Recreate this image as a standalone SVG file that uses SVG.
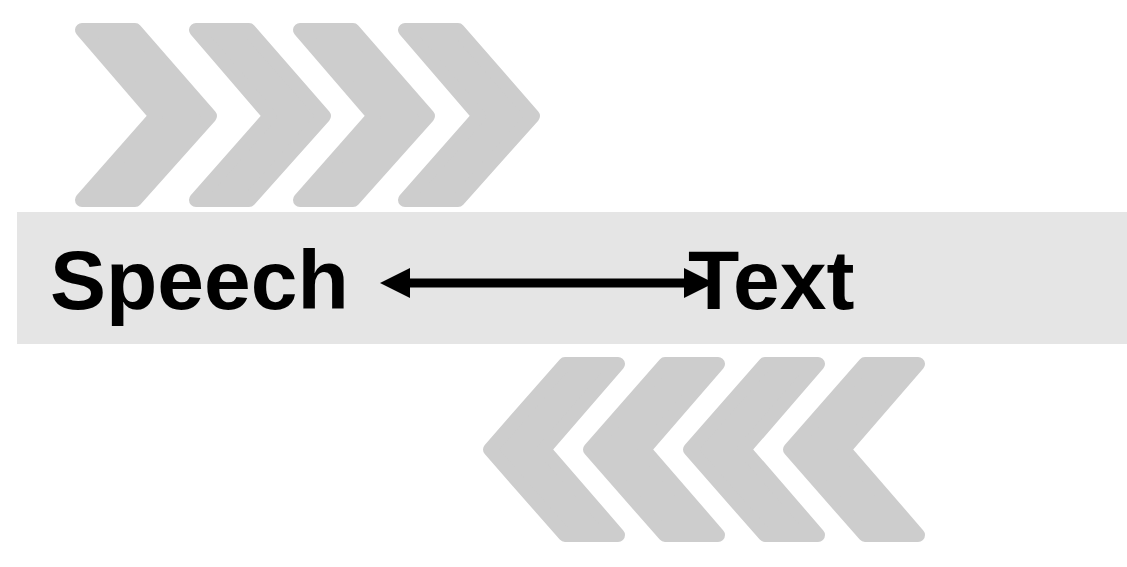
<svg xmlns="http://www.w3.org/2000/svg" width="1127" height="567" viewBox="0 0 1127 567">
  <style>
    .chev { fill: #cdcdcd; stroke: #cdcdcd; stroke-width: 14; stroke-linejoin: round; }
    .band { fill: #e5e5e5; }
    .label { font-family: "Liberation Sans", Arial, sans-serif; font-weight: bold; font-size: 84px; fill: #000000; }
    .conn { stroke: #000000; stroke-width: 9; fill: none; }
  </style>
  <defs>
    <polygon id="chevR" points="7,7 60,7 135,93 60,177 7,177 81,93"/>
    <polygon id="chevL" points="135,7 82,7 7,92.5 82,178 135,178 61,92.5"/>
    <marker id="head" markerUnits="userSpaceOnUse" markerWidth="30" markerHeight="30" refX="15" refY="15" orient="auto-start-reverse" viewBox="0 0 30 30">
      <path d="M0,0 L30,15 L0,30 Z" fill="#000000"/>
    </marker>
  </defs>
  <rect width="1127" height="567" fill="#ffffff"/>
  <g id="chevrons-top">
    <use href="#chevR" class="chev" x="75" y="23"/>
    <use href="#chevR" class="chev" x="189" y="23"/>
    <use href="#chevR" class="chev" x="293" y="23"/>
    <use href="#chevR" class="chev" x="398" y="23"/>
  </g>
  <g id="chevrons-bottom">
    <use href="#chevL" class="chev" x="483" y="357"/>
    <use href="#chevL" class="chev" x="583" y="357"/>
    <use href="#chevL" class="chev" x="683" y="357"/>
    <use href="#chevL" class="chev" x="783" y="357"/>
  </g>
  <g id="band">
    <rect class="band" x="17" y="212" width="1110" height="132"/>
  </g>
  <g id="connectors">
    <line class="conn" x1="395" y1="283" x2="699" y2="283" marker-start="url(#head)" marker-end="url(#head)"/>
  </g>
  <g id="node-speech">
    <text class="label" x="50" y="309">Speech</text>
  </g>
  <g id="node-text">
    <text class="label" x="688" y="309">Text</text>
  </g>
</svg>
